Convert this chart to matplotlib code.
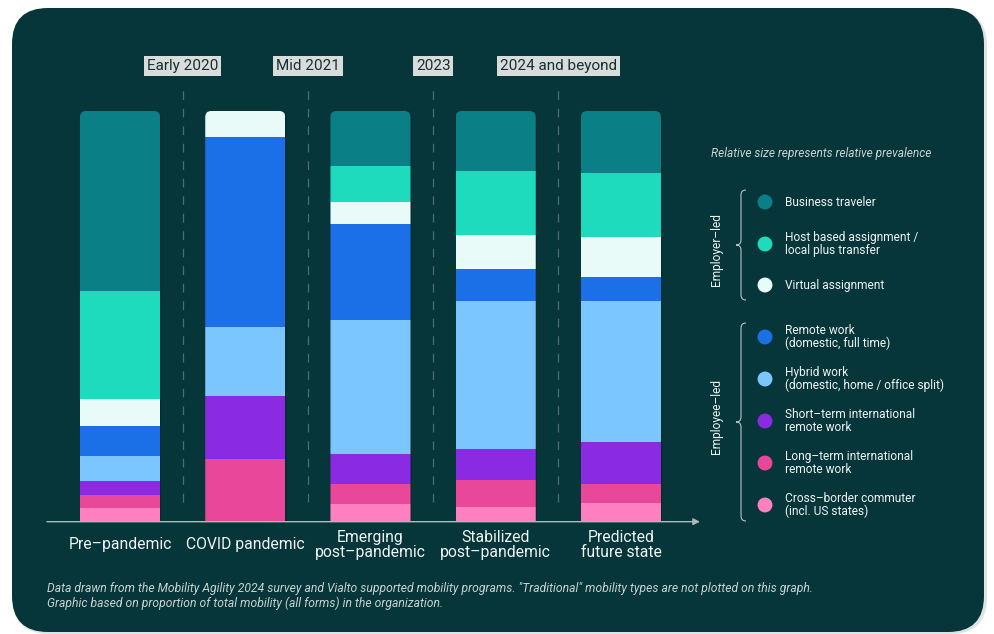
import numpy as np
import matplotlib
matplotlib.use("Agg")
import matplotlib.pyplot as plt
from matplotlib.patches import FancyBboxPatch
from matplotlib.path import Path
from matplotlib.patches import PathPatch

plt.rcParams['font.family'] = ['Roboto', 'DejaVu Sans']

# categories (x axis)
stages = ['Pre–pandemic', 'COVID pandemic', 'Emerging\npost–pandemic',
          'Stabilized\npost–pandemic', 'Predicted\nfuture state']
periods = ['Early 2020', 'Mid 2021', '2023', '2024 and beyond']

# share of total mobility (%)
cross_border = [3.3, 0.0, 4.2, 3.7, 4.6]
long_term = [3.2, 15.3, 5.1, 6.5, 4.7]
short_term = [3.4, 15.3, 7.3, 7.5, 10.2]
hybrid = [6.2, 16.7, 32.4, 36.1, 34.3]
remote = [7.1, 46.3, 23.5, 7.7, 5.7]
virtual = [6.7, 6.4, 5.3, 8.4, 9.7]
host_based = [26.2, 0.0, 8.8, 15.6, 15.6]
business = [43.9, 0.0, 13.4, 14.5, 15.2]

# bottom to top
series = [cross_border, long_term, short_term, hybrid, remote, virtual, host_based, business]
colors = ['#FF80C0', '#E8479A', '#8A2AE3', '#7CC6FF', '#1B70E8', '#E8FBF8', '#1DDBBC', '#0A7F86']

legend_labels = ['Business traveler', 'Host based assignment /\nlocal plus transfer', 'Virtual assignment',
                 'Remote work\n(domestic, full time)', 'Hybrid work\n(domestic, home / office split)',
                 'Short–term international\nremote work', 'Long–term international\nremote work',
                 'Cross–border commuter\n(incl. US states)']
legend_colors = colors[::-1]
legend_y = [202, 244, 285, 337, 379, 421, 463, 505]

footnote = ('Data drawn from the Mobility Agility 2024 survey and Vialto supported mobility programs. '
            '"Traditional" mobility types are not plotted on this graph.\n'
            'Graphic based on proportion of total mobility (all forms) in the organization.')

W, H = 994, 634
BG = '#06363A'
TXT = '#EEF3F3'

fig = plt.figure(figsize=(W / 100, H / 100), dpi=100)
fig.patch.set_facecolor('white')

# overlay in pixel coords for background / legend
bg = fig.add_axes([0, 0, 1, 1], zorder=0)
bg.set_xlim(0, W)
bg.set_ylim(H, 0)
bg.axis('off')
shadow = FancyBboxPatch((13, 10), 974, 624, boxstyle='round,pad=0,rounding_size=36',
                        fc='#c9d2d2', ec='none', alpha=0.6)
bg.add_patch(shadow)
bg.add_patch(FancyBboxPatch((12, 8), 972, 624, boxstyle='round,pad=0,rounding_size=36',
                            fc=BG, ec='none'))

# main chart axes
left, right, top, bottom = 47, 700, 111, 521.7
ax = fig.add_axes([left / W, (H - bottom) / H, (right - left) / W, (bottom - top) / H], zorder=1)
ax.set_facecolor('none')
ax.set_xlim(-0.583, 4.631)
ax.set_ylim(0, 100)
for s in ax.spines.values():
    s.set_visible(False)
ax.set_xticks([])
ax.set_yticks([])

x = np.arange(len(stages))
bw = 0.639
# rounding sizes in data units
px_x = (right - left) / (4.631 + 0.583)
px_y = (bottom - top) / 100
r = 6 / px_x
aspect = (6 / px_y) / r

totals = np.sum(series, axis=0)
clips = []
for i in range(len(x)):
    sh = FancyBboxPatch((x[i] - bw / 2 + 0.01, -3), bw, totals[i] + 3.5,
                        boxstyle=f'round,pad=0,rounding_size={r * 1.3}', mutation_aspect=aspect,
                        fc='#01201f', ec='none', alpha=0.45, zorder=1)
    ax.add_patch(sh)
    c = FancyBboxPatch((x[i] - bw / 2, -5), bw, totals[i] + 5,
                       boxstyle=f'round,pad=0,rounding_size={r}', mutation_aspect=aspect,
                       fc='none', ec='none')
    ax.add_patch(c)
    clips.append(c)

bottoms = np.zeros(len(x))
for vals, col in zip(series, colors):
    bars = ax.bar(x, vals, bw, bottom=bottoms, color=col, edgecolor='none', zorder=2)
    for b, c in zip(bars, clips):
        b.set_clip_path(c)
    bottoms += np.array(vals)

# dashed separators + period labels
for j, p in enumerate(periods):
    ax.plot([j + 0.5, j + 0.5], [4.8, 105.1], color='#4F6C6C', lw=0.9,
            dashes=(7, 7), clip_on=False, zorder=1)
    ax.text(j + 0.5, 1.1096, p, transform=ax.get_xaxis_transform(), ha='center', va='center',
            fontsize=11, color='#16302F',
            bbox=dict(boxstyle='square,pad=0.2', fc='#D8DDDC', ec='none'))

# x axis arrow
ax.annotate('', xy=(1, 0), xytext=(0, 0), xycoords='axes fraction',
            arrowprops=dict(arrowstyle='-|>', color='#AEB9B9', lw=1, mutation_scale=10,
                            shrinkA=0, shrinkB=0), zorder=3)

for i, lab in enumerate(stages):
    ax.text(x[i], -0.0567, lab, transform=ax.get_xaxis_transform(), ha='center', va='center',
            fontsize=11.3, color=TXT, linespacing=1.0)

# legend
bg.text(711, 154, 'Relative size represents relative prevalence', style='italic',
        fontsize=8.6, color='#C9D3D3', va='center')
bg.scatter([765] * len(legend_y), legend_y, s=115, c=legend_colors, zorder=3, linewidths=0)
for yy, lab in zip(legend_y, legend_labels):
    bg.text(785, yy, lab, fontsize=8.6, color=TXT, va='center', linespacing=1.0)


def brace(x0, y0, y1, d=5):
    ym = (y0 + y1) / 2
    verts = [(x0 + d, y0), (x0, y0), (x0, y0 + d),
             (x0, ym - d), (x0, ym), (x0 - d, ym),
             (x0, ym), (x0, ym + d),
             (x0, y1 - d), (x0, y1), (x0 + d, y1)]
    codes = [Path.MOVETO, Path.CURVE3, Path.CURVE3,
             Path.LINETO, Path.CURVE3, Path.CURVE3,
             Path.CURVE3, Path.CURVE3,
             Path.LINETO, Path.CURVE3, Path.CURVE3]
    bg.add_patch(PathPatch(Path(verts, codes), fc='none', ec='#B5C1C1', lw=0.8))


brace(741, 190, 300)
brace(741, 323, 521)
bg.text(717, 250, 'Employer–led', rotation=90, fontsize=8.6, color=TXT, ha='center', va='center')
bg.text(717, 416, 'Employee–led', rotation=90, fontsize=8.6, color=TXT, ha='center', va='center')

bg.text(47, 596, footnote, style='italic', fontsize=8.7, color='#C9D3D3', va='center',
        linespacing=1.2)

fig.savefig('out.png', dpi=100, facecolor=fig.get_facecolor())
